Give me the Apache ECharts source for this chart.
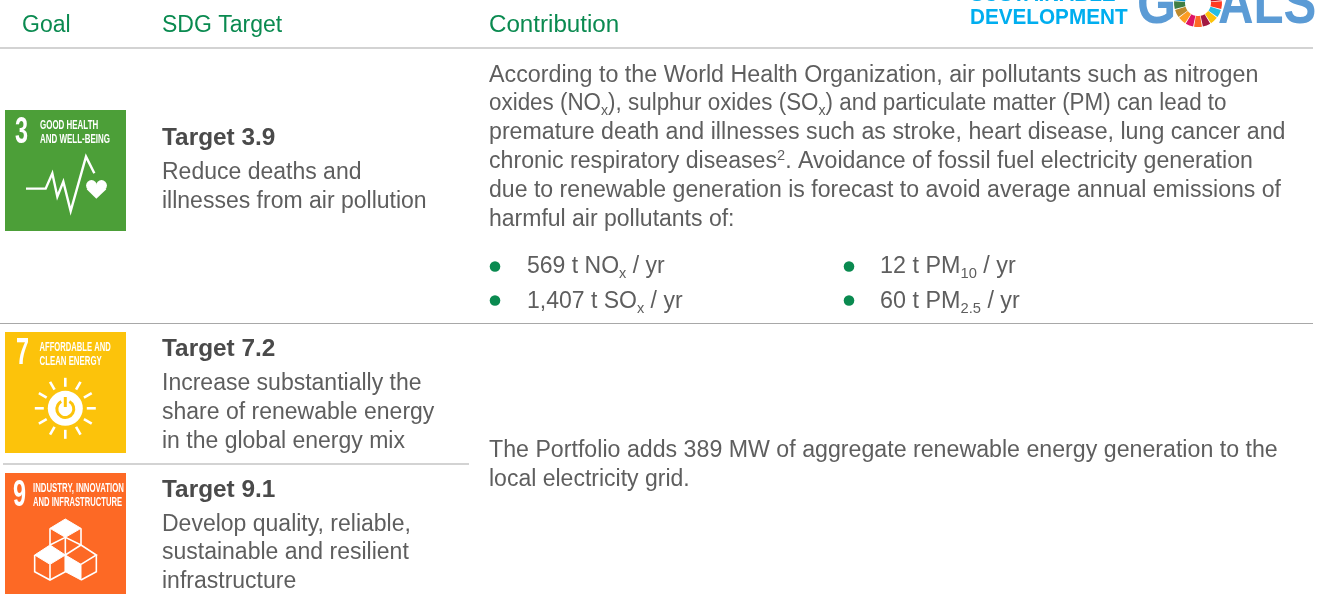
<!DOCTYPE html>
<html>
<head>
<meta charset="utf-8">
<title>SDG contribution table</title>
<style>
html, body { margin: 0; padding: 0; background: #fff; }
#main { width: 1319px; height: 600px; }
</style>
<script src="https://cdn.jsdelivr.net/npm/echarts@6/dist/echarts.min.js"></script>
</head>
<body>
<div id="main"></div>
<script>
var headers = ['Goal', 'SDG Target', 'Contribution'];
var target3 = ['Target 3.9', 'Reduce deaths and', 'illnesses from air pollution'];
var target7 = ['Target 7.2', 'Increase substantially the', 'share of renewable energy', 'in the global energy mix'];
var target9 = ['Target 9.1', 'Develop quality, reliable,', 'sustainable and resilient', 'infrastructure'];
var contribution = [
    'According to the World Health Organization, air pollutants such as nitrogen',
    'oxides (NO{sub|x}), sulphur oxides (SO{sub|x}) and particulate matter (PM) can lead to',
    'premature death and illnesses such as stroke, heart disease, lung cancer and',
    'chronic respiratory diseases{sup|2}. Avoidance of fossil fuel electricity generation',
    'due to renewable generation is forecast to avoid average annual emissions of',
    'harmful air pollutants of:'
];
var bulletsLeft = ['569 t NO{sub|x} / yr', '1,407 t SO{sub|x} / yr'];
var bulletsRight = ['12 t PM{sub|10} / yr', '60 t PM{sub|2.5} / yr'];
var portfolio = [
    'The Portfolio adds 389 MW of aggregate renewable energy generation to the',
    'local electricity grid.'
];
var sdgColors = ['#e5243b', '#dda63a', '#4c9f38', '#c5192d', '#ff3a21', '#26bde2', '#fcc30b', '#a21942', '#fd6925',
    '#dd1367', '#fd9d24', '#bf8b2e', '#3f7e44', '#0a97d9', '#56c02b', '#00689d', '#19486a'];

var FONT = '"Liberation Sans", Arial, sans-serif';
var GREY = '#5e5e5e';
var GREEN = '#0a8a50';
var chart = echarts.init(document.getElementById('main'), null, { renderer: 'canvas' });
var els = [];

function txt(s, x, y, o) {
    o = o || {};
    els.push({
        type: 'text', x: x, y: y, scaleX: o.scaleX || 1, silent: true,
        style: {
            text: s, x: 0, y: 0,
            fill: o.color || GREY,
            font: (o.weight || 'normal') + ' ' + (o.size || 23) + 'px ' + FONT,
            verticalAlign: 'middle', align: 'left',
            rich: {
                sub: { fontSize: 14.5, fontFamily: FONT, fill: o.color || GREY, verticalAlign: 'bottom', lineHeight: 28 },
                sup: { fontSize: 14.5, fontFamily: FONT, fill: o.color || GREY, verticalAlign: 'top', lineHeight: 28 }
            }
        }
    });
}
function iconTxt(s, x, y, sx) {
    txt(s, x, y, { weight: 'bold', size: 13.5, color: '#fff', scaleX: sx });
}
function hline(x1, x2, y) {
    els.push({ type: 'line', silent: true, shape: { x1: x1, y1: y, x2: x2, y2: y }, style: { stroke: '#a8a8a8', lineWidth: 1.2 } });
}
function block(lines, x, ys, fit) {
    lines.forEach(function (s, i) { txt(s, x, ys[i], { scaleX: fit ? fit[i] : 1 }); });
}
function targetBlock(lines, ys) {
    txt(lines[0], 162, ys[0], { weight: 'bold', color: '#4a4a4a', scaleX: 1.06 });
    block(lines.slice(1), 162, ys.slice(1));
}
function poly(pts, ox, oy, style, closed) {
    // pts are 3x zoom pixels
    var p = pts.map(function (q) { return [ox + q[0] / 3, oy + q[1] / 3]; });
    els.push({ type: closed ? 'polygon' : 'polyline', silent: true, shape: { points: p }, style: style });
}

// header row
txt(headers[0], 22, 26, { color: GREEN });
txt(headers[1], 162, 26, { color: GREEN });
txt(headers[2], 489, 26, { color: GREEN, scaleX: 1.05 });
hline(0, 1313, 48);
hline(0, 1313, 323.5);
hline(3, 469, 464);

// logo, cropped by the top edge
txt('SUSTAINABLE', 970, -5, { weight: 'bold', size: 22.5, color: '#00aeef', scaleX: 0.92 });
txt('DEVELOPMENT', 970, 17.5, { weight: 'bold', size: 22.5, color: '#00aeef', scaleX: 0.92 });
txt('G', 1137, 6, { weight: 'bold', size: 60, color: '#5b9bd5', scaleX: 0.84 });
txt('ALS', 1218, 6, { weight: 'bold', size: 60, color: '#5b9bd5', scaleX: 0.82 });
sdgColors.forEach(function (c, i) {
    var step = Math.PI * 2 / sdgColors.length;
    var a = -Math.PI / 2 + i * step;
    els.push({
        type: 'sector', silent: true,
        shape: { cx: 1198, cy: 3, r: 24, r0: 13, startAngle: a + 0.02, endAngle: a + step - 0.02, clockwise: true },
        style: { fill: c }
    });
});

// goal 3 icon
els.push({ type: 'rect', silent: true, shape: { x: 5, y: 110, width: 121, height: 121 }, style: { fill: '#4c9f38' } });
txt('3', 15, 133, { weight: 'bold', size: 36, color: '#fff', scaleX: 0.65 });
iconTxt('GOOD HEALTH', 40, 125.5, 0.59);
iconTxt('AND WELL-BEING', 40, 139.5, 0.59);
poly([[78, 266], [137, 266], [157, 220], [172, 290], [190, 245], [212, 333], [258, 170], [283, 220]], 0, 100,
    { stroke: '#fff', lineWidth: 2.4, fill: null });
// heart
els.push({ type: 'circle', silent: true, shape: { cx: 91.5, cy: 185.5, r: 5.4 }, style: { fill: '#fff' } });
els.push({ type: 'circle', silent: true, shape: { cx: 101.5, cy: 185.5, r: 5.4 }, style: { fill: '#fff' } });
poly([[260, 268], [289, 296], [319, 268], [289, 255]], 0, 100, { fill: '#fff' }, true);

// goal 7 icon
els.push({ type: 'rect', silent: true, shape: { x: 5, y: 332, width: 121, height: 121 }, style: { fill: '#fcc30b' } });
txt('7', 16, 354.5, { weight: 'bold', size: 36, color: '#fff', scaleX: 0.65 });
iconTxt('AFFORDABLE AND', 39.5, 347.7, 0.565);
iconTxt('CLEAN ENERGY', 39.5, 361.7, 0.58);
els.push({ type: 'circle', silent: true, shape: { cx: 65.3, cy: 408.3, r: 17.5 }, style: { fill: '#fff' } });
for (var k = 0; k < 12; k++) {
    var ang = k * Math.PI / 6;
    els.push({
        type: 'line', silent: true,
        shape: { x1: 65.3 + 21.5 * Math.cos(ang), y1: 408.3 + 21.5 * Math.sin(ang), x2: 65.3 + 30.5 * Math.cos(ang), y2: 408.3 + 30.5 * Math.sin(ang) },
        style: { stroke: '#fff', lineWidth: 2.6 }
    });
}
els.push({
    type: 'arc', silent: true,
    shape: { cx: 65.3, cy: 409, r: 8.5, startAngle: -Math.PI / 2 + 0.5, endAngle: -Math.PI / 2 - 0.5 + Math.PI * 2, clockwise: true },
    style: { stroke: '#fcc30b', lineWidth: 3, fill: null }
});
els.push({ type: 'line', silent: true, shape: { x1: 65.3, y1: 397, x2: 65.3, y2: 407 }, style: { stroke: '#fcc30b', lineWidth: 3 } });

// goal 9 icon
els.push({ type: 'rect', silent: true, shape: { x: 5, y: 473, width: 121, height: 121 }, style: { fill: '#fd6925' } });
txt('9', 13, 495.7, { weight: 'bold', size: 36, color: '#fff', scaleX: 0.65 });
iconTxt('INDUSTRY, INNOVATION', 33, 488, 0.578);
iconTxt('AND INFRASTRUCTURE', 33, 502.7, 0.565);
var W = { fill: '#fff', stroke: '#fff', lineWidth: 1 };
var L = { fill: null, stroke: '#fff', lineWidth: 1.6 };
poly([[196, 177], [243, 205], [196, 232], [150, 205]], 0, 460, W, true);
poly([[150, 255], [196, 285], [150, 313], [104, 285]], 0, 460, W, true);
poly([[196, 285], [243, 313], [243, 360], [196, 335]], 0, 460, W, true);
poly([[150, 205], [150, 255]], 0, 460, L);
poly([[243, 205], [243, 255], [196, 285], [196, 232]], 0, 460, L);
poly([[150, 255], [196, 232], [243, 255], [289, 285], [243, 313]], 0, 460, L);
poly([[104, 285], [104, 335], [150, 360], [196, 335], [196, 285]], 0, 460, L);
poly([[150, 313], [150, 360]], 0, 460, L);
poly([[289, 285], [289, 335], [243, 360]], 0, 460, L);

// text blocks
targetBlock(target3, [139, 173, 202]);
targetBlock(target7, [350, 384, 413, 442]);
targetBlock(target9, [491, 525, 553, 582]);
block(contribution, 489, [76, 104, 133, 162, 191, 220], [1.012, 0.974, 1.008, 1.006, 1.004, 1]);
block(portfolio, 489, [451, 480], [1.008, 1]);
[495, 849].forEach(function (x) {
    [266.5, 300.5].forEach(function (y) {
        els.push({ type: 'circle', silent: true, shape: { cx: x, cy: y, r: 5.3 }, style: { fill: GREEN } });
    });
});
block(bulletsLeft, 527, [267, 302]);
block(bulletsRight, 880, [267, 302], [1.015, 1.015]);

chart.setOption({ backgroundColor: '#fff', animation: false, graphic: { elements: els } });
</script>
</body>
</html>
